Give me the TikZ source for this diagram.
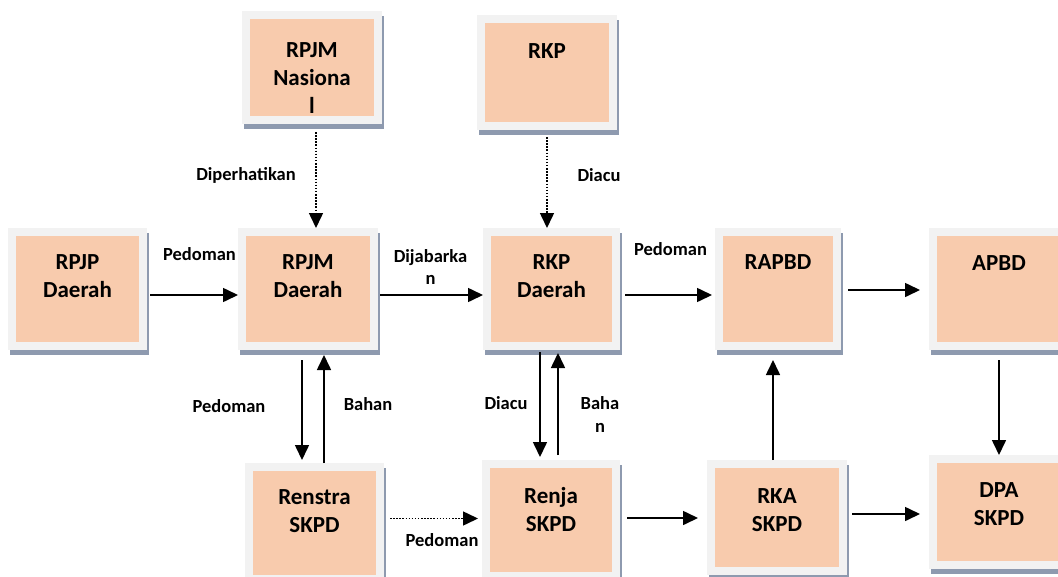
\documentclass[tikz,border=0pt]{standalone}
\usepackage{fontspec}
\setmainfont{Carlito}
\usetikzlibrary{arrows.meta, shadows}
\definecolor{peach}{HTML}{F8CBAD}
\definecolor{framegray}{HTML}{F2F2F2}
\definecolor{shadowblue}{HTML}{8E9AAF}

\begin{document}
\begin{tikzpicture}[
  x=1pt, y=-1pt,
  box/.style={anchor=north west, inner sep=0pt, outer sep=0pt, fill=framegray,
    minimum width=140pt, minimum height=122pt,
    drop shadow={shadow xshift=2pt, shadow yshift=-5pt, fill=shadowblue, opacity=1},
    path picture={\fill[peach] ([shift={(8pt,8pt)}]path picture bounding box.south west) rectangle ([shift={(-8pt,-8pt)}]path picture bounding box.north east);}},
  boxtext/.style={anchor=north, label distance=-26pt, inner sep=0pt, align=center, font=\fontsize{23}{28}\selectfont\bfseries},
  lbl/.style={inner sep=0pt, align=center, font=\fontsize{18.5}{22.5}\selectfont\bfseries},
  flow/.style={line width=1.6pt, -{Triangle[length=15pt, width=14pt]}},
  dotflow/.style={flow, line width=1.5pt, dash pattern=on 1.5pt off 1.6pt}
]
\clip (0,0) rectangle (1058,576);

% Nodes
\node[box, minimum width=139pt, label={[boxtext]north:RPJP\\Daerah}] (rpjpd) at (8,228) {};
\node[box, minimum height=113pt, label={[boxtext, label distance=-31pt]north:RPJM\\Nasiona\\l}] (rpjmn) at (242,11) {};
\node[box, minimum height=115pt, label={[boxtext, label distance=-28pt]north:RKP}] (rkp) at (477,15) {};
\node[box, label={[boxtext]north:RPJM\\Daerah}] (rpjmd) at (238,228) {};
\node[box, minimum width=137pt, label={[boxtext]north:RKP\\Daerah}] (rkpd) at (483,228) {};
\node[box, minimum width=126pt, label={[boxtext]north:RAPBD}] (rapbd) at (715,228) {};
\node[box, label={[boxtext, label distance=-27pt]north:APBD}] (apbd) at (929,228) {};
\node[box, minimum width=139pt, minimum height=120pt, label={[boxtext]north:Renstra\\SKPD}] (renstra) at (245,463) {};
\node[box, minimum width=138pt, minimum height=120pt, label={[boxtext, label distance=-27pt]north:Renja\\SKPD}] (renja) at (482,460) {};
\node[box, minimum height=115pt, label={[boxtext, label distance=-28pt]north:RKA\\SKPD}] (rka) at (707,460) {};
\node[box, minimum height=114pt, label={[boxtext, label distance=-27pt]north:DPA\\SKPD}] (dpa) at (929,455) {};

% Connections
\draw[flow, shorten <=3pt] ([yshift=-6pt]rpjpd.east) -- ([yshift=-6pt]rpjpd.east -| rpjmd.west) node[lbl, midway, xshift=7pt, yshift=41pt] (l1) {Pedoman};
\draw[dotflow, shorten <=8pt] ([xshift=4pt]rpjmn.south) -- ([xshift=4pt]rpjmn.south |- rpjmd.north) node[lbl, midway, xshift=-70pt, yshift=1pt] (l2) {Diperhatikan};
\draw[flow, shorten <=2pt] ([yshift=-6pt]rpjmd.east) -- ([yshift=-6pt]rpjmd.east -| rkpd.west) node[lbl, midway, yshift=28pt] (l3) {Dijabarka\\n};
\draw[dotflow, shorten <=7pt] (rkp.south) -- (rkp.south |- rkpd.north) node[lbl, midway, xshift=52pt, yshift=4pt] (l4) {Diacu};
\draw[flow, shorten <=5pt, shorten >=3pt] ([yshift=-6pt]rkpd.east) -- ([yshift=-6pt]rkpd.east -| rapbd.west) node[lbl, midway, xshift=3pt, yshift=46pt] (l5) {Pedoman};
\draw[flow, shorten <=7pt, shorten >=9pt] ([yshift=-1pt]rapbd.east) -- ([yshift=-1pt]rapbd.east -| apbd.west);
\draw[flow, shorten <=10pt, shorten >=3pt] ([xshift=-6pt]rpjmd.south) -- ([xshift=-6pt]rpjmd.south |- renstra.north) node[lbl, midway, xshift=-73pt] (l6) {Pedoman};
\draw[flow, shorten >=5pt] ([xshift=16pt]rpjmd.south |- renstra.north) -- ([xshift=16pt]rpjmd.south) node[lbl, midway, xshift=44pt, yshift=2pt] (l7) {Bahan};
\draw[flow, shorten <=2pt, shorten >=3pt] ([xshift=-11.5pt]rkpd.south) -- ([xshift=-11.5pt]rkpd.south |- renja.north) node[lbl, midway, xshift=-34pt, yshift=2pt] (l8) {Diacu};
\draw[flow, shorten <=5pt, shorten >=3pt] ([xshift=6.5pt]rkpd.south |- renja.north) -- ([xshift=6.5pt]rkpd.south) node[lbl, midway, xshift=42pt, yshift=-9.5pt] (l9) {Baha\\n};
\draw[flow, shorten >=10pt] ([xshift=-4pt]rka.north) -- ([xshift=-4pt]rka.north |- rapbd.south);
\draw[flow, shorten <=10pt] (apbd.south) -- (apbd.south |- dpa.north);
\draw[dotflow, shorten <=6pt, shorten >=4pt] ([yshift=4.5pt]renstra.east) -- ([yshift=4.5pt]renstra.east -| renja.west) node[lbl, midway, xshift=9pt, yshift=-22pt] (l10) {Pedoman};
\draw[flow, shorten <=7pt, shorten >=9pt] ([yshift=2pt]renja.east) -- ([yshift=2pt]renja.east -| rka.west);
\draw[flow, shorten <=5pt, shorten >=9pt] ([yshift=3.5pt]rka.east) -- ([yshift=3.5pt]rka.east -| dpa.west);

\end{tikzpicture}
\end{document}
